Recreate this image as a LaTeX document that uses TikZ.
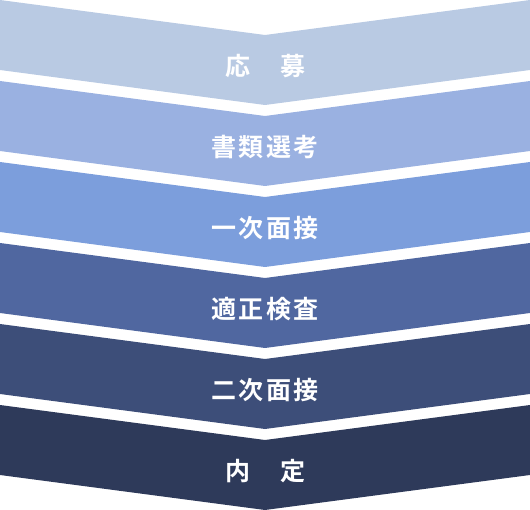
\documentclass[tikz,border=0pt]{standalone}
\usepackage{fontspec}
\newfontfamily\jpfont{Noto Sans CJK JP Bold}[LetterSpace=10]
\definecolor{bandA}{HTML}{B9CAE3}
\definecolor{bandB}{HTML}{9AB1E1}
\definecolor{bandC}{HTML}{7C9EDC}
\definecolor{bandD}{HTML}{5067A0}
\definecolor{bandE}{HTML}{3D4E79}
\definecolor{bandF}{HTML}{2E3A5A}
\tikzstyle{steplabel} = [text=white,
inner sep=0pt,
font=\jpfont\fontsize{25pt}{25pt}\selectfont]
\begin{document}
\begin{tikzpicture}[x=1pt, y=-1pt]
  \useasboundingbox (0,0) rectangle (530,510);
  % chevron bands
  \fill[bandA] (0,0) -- (265,35) -- (530,0) -- (530,70) -- (265,105) -- (0,70) -- cycle;
  \fill[bandB] (0,81) -- (265,116) -- (530,81) -- (530,151) -- (265,186) -- (0,151) -- cycle;
  \fill[bandC] (0,162) -- (265,197) -- (530,162) -- (530,232) -- (265,267) -- (0,232) -- cycle;
  \fill[bandD] (0,243) -- (265,278) -- (530,243) -- (530,313) -- (265,348) -- (0,313) -- cycle;
  \fill[bandE] (0,324) -- (265,359) -- (530,324) -- (530,394) -- (265,429) -- (0,394) -- cycle;
  \fill[bandF] (0,405) -- (265,440) -- (530,405) -- (530,475) -- (265,510) -- (0,475) -- cycle;
  % labels
  \node (apply) [steplabel] at (265,66) {応　募};
  \node (docs) [steplabel] at (265,147) {書類選考};
  \node (first) [steplabel] at (265,228) {一次面接};
  \node (test) [steplabel] at (265,309) {適正検査};
  \node (second) [steplabel] at (265,390) {二次面接};
  \node (offer) [steplabel] at (265,471) {内　定};
\end{tikzpicture}
\end{document}
